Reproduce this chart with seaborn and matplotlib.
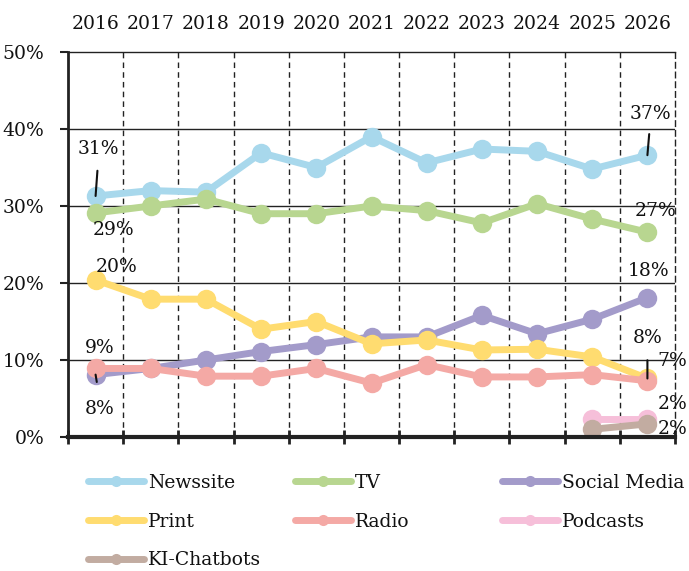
import matplotlib
matplotlib.use("Agg")
import matplotlib.pyplot as plt
from matplotlib.lines import Line2D
import numpy as np
import pandas as pd
import seaborn as sns

# ---- data -------------------------------------------------------------
years = [2016, 2017, 2018, 2019, 2020, 2021, 2022, 2023, 2024, 2025, 2026]
channels = ["Newssite", "TV", "Social Media", "Print", "Radio", "Podcasts", "KI-Chatbots"]

newssite = [31.3, 32.0, 31.8, 36.9, 35.0, 39.0, 35.6, 37.4, 37.1, 34.8, 36.6]
tv = [29.1, 30.0, 30.9, 29.0, 29.0, 30.0, 29.4, 27.8, 30.3, 28.3, 26.6]
social_media = [8.1, 8.9, 10.0, 11.1, 12.0, 13.0, 13.0, 15.8, 13.4, 15.3, 18.1]
print_ = [20.4, 17.9, 17.9, 14.0, 15.0, 12.1, 12.6, 11.3, 11.4, 10.4, 7.6]
radio = [8.9, 8.9, 7.9, 7.9, 8.9, 7.0, 9.4, 7.8, 7.8, 8.1, 7.3]
podcast_years = [2025, 2026]
podcasts = [2.3, 2.3]
chatbots = [1.0, 1.7]

colors = ["#A8D8EC", "#B8D690", "#A39BCA", "#FFDC70", "#F4A9A5", "#F6BFD9", "#C2ACA1"]
y_ticks = [0, 10, 20, 30, 40, 50]

series = {
    "Newssite": (years, newssite),
    "TV": (years, tv),
    "Social Media": (years, social_media),
    "Print": (years, print_),
    "Radio": (years, radio),
    "Podcasts": (podcast_years, podcasts),
    "KI-Chatbots": (podcast_years, chatbots),
}
df = pd.concat(
    [pd.DataFrame({"year": x, "share": y, "channel": name}) for name, (x, y) in series.items()],
    ignore_index=True,
)

# ---- style -------------------------------------------------------------
sns.set_style("white")
plt.rcParams["font.family"] = ["DejaVu Serif"]
FS = 13.5
TXT = "#111111"

fig = plt.figure(figsize=(6.89, 5.71), dpi=100)
ax = fig.add_axes([68 / 689, 1 - 437 / 571, 607 / 689, 385 / 571])

palette = dict(zip(channels, colors))
sns.lineplot(
    data=df, x="year", y="share", hue="channel", hue_order=channels,
    palette=palette, marker="o", markersize=14, markeredgewidth=0,
    linewidth=5, sort=False, legend=False, ax=ax, zorder=3,
)

ax.set_xlim(years[0] - 0.5, years[-1] + 0.5)
ax.set_ylim(0, 50)
ax.set_xlabel("")
ax.set_ylabel("")

# year labels on top, band boundaries as minor ticks below
ax.set_xticks(years)
ax.set_xticklabels([str(y) for y in years])
ax.set_xticks([y + 0.5 for y in [years[0] - 1] + years], minor=True)
ax.tick_params(axis="x", which="major", top=True, labeltop=True, bottom=False,
               labelbottom=False, length=0, pad=14, labelsize=FS, labelcolor=TXT)
ax.tick_params(axis="x", which="minor", bottom=True, top=False, length=10,
               width=2, direction="inout", color="#222222")

ax.set_yticks(y_ticks)
ax.set_yticklabels([f"{v}%" for v in y_ticks])
ax.tick_params(axis="y", which="major", left=True, length=6, width=1.5,
               pad=11, labelsize=FS, labelcolor=TXT, color="#222222")

ax.grid(False)
for v in y_ticks[1:-1]:
    ax.axhline(v, color="#222222", lw=1.0, zorder=1)
for b in years[:-1]:
    ax.axvline(b + 0.5, color="#222222", lw=1.0, ls=(0, (4, 3)), zorder=1)

for side in ["top", "left", "right", "bottom"]:
    ax.spines[side].set_visible(True)
    ax.spines[side].set_color("#222222")
ax.spines["top"].set_linewidth(1.0)
ax.spines["left"].set_linewidth(2.0)
ax.spines["right"].set_linewidth(1.0)
ax.spines["right"].set_linestyle((0, (4, 3)))
ax.spines["bottom"].set_linewidth(3.0)
ax.spines["bottom"].set_zorder(4)

# ---- value labels ------------------------------------------------------
def label(x, v, dx, dy, leader=None):
    kw = dict(textcoords="offset points", ha="center", va="center",
              fontsize=FS, color=TXT, zorder=5)
    if leader is not None:
        kw["arrowprops"] = dict(arrowstyle="-", lw=1.5, color=TXT,
                                shrinkA=leader, shrinkB=0,
                                relpos=(0.5, 0.0) if dy > 0 else (0.5, 1.0))
    ax.annotate(f"{v:.0f}%", xy=(x, v), xytext=(dx, dy), **kw)

first, last = years[0], years[-1]
label(first, newssite[0], 2, 34, leader=7)
label(first, tv[0], 13, -12)
label(first, print_[0], 15, 9)
label(first, radio[0], 3, 15)
label(first, social_media[0], 3, -25, leader=11)
label(last, newssite[-1], 2, 30, leader=6)
label(last, tv[-1], 6, 15)
label(last, social_media[-1], 1, 19)
label(last, print_[-1], 0, 29, leader=7)
label(last, radio[-1], 18, 14)
label(podcast_years[-1], podcasts[-1], 18, 11)
label(podcast_years[-1], chatbots[-1], 18, -4)

# ---- legend: three columns, row-wise order ------------------------------
handles = {
    name: Line2D([], [], color=palette[name], lw=5, marker="o",
                 markersize=8, markeredgewidth=0)
    for name in channels
}
columns = [["Newssite", "Print", "KI-Chatbots"], ["TV", "Radio"], ["Social Media", "Podcasts"]]
col_x = [88, 295, 502]
for names, x in zip(columns, col_x):
    leg = fig.legend([handles[n] for n in names], names, loc="upper left",
                     bbox_to_anchor=(x / 689, 1 - 474 / 571), frameon=False,
                     borderpad=0, borderaxespad=0, handlelength=3.0,
                     handletextpad=0.2, labelspacing=1.1, fontsize=FS)
    for t in leg.get_texts():
        t.set_color(TXT)

fig.savefig("out.png", dpi=100)
